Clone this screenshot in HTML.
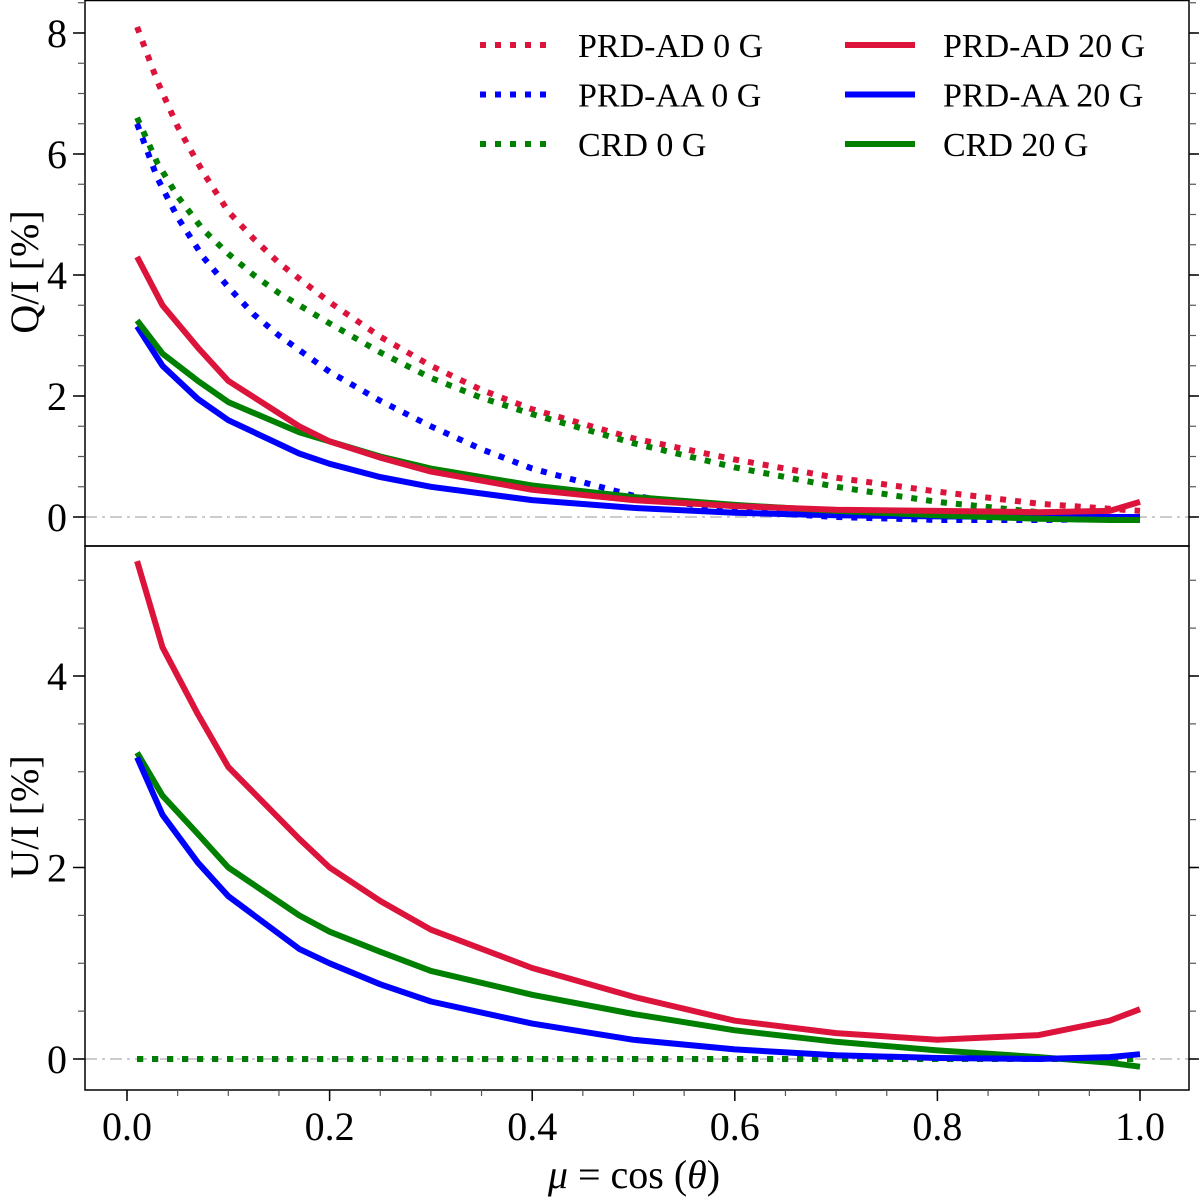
<!DOCTYPE html>
<html><head><meta charset="utf-8"><style>
html,body{margin:0;padding:0;background:#fff;}
svg{display:block;font-family:"Liberation Serif",serif;}
</style></head><body>
<svg id="c" width="1200" height="1199" viewBox="0 0 1200 1199"></svg>
<script>
const mu = [0.01,0.035,0.07,0.1,0.17,0.2,0.25,0.3,0.4,0.5,0.6,0.7,0.8,0.9,0.97,1.0];
const muD = [0.01,0.03,0.05,0.075,0.1,0.125,0.15,0.2,0.25,0.3,0.35,0.4,0.5,0.6,0.7,0.8,0.9,1.0];
const qAD0 = [8.1,7.2,6.45,5.7,5.05,4.6,4.2,3.55,2.98,2.5,2.1,1.78,1.3,0.95,0.65,0.42,0.22,0.1];
const qAA0 = [6.5,5.6,4.95,4.3,3.8,3.35,3.0,2.4,1.92,1.5,1.12,0.8,0.35,0.1,0.0,-0.05,-0.05,-0.03];
const qCRD0 = [6.6,5.85,5.3,4.75,4.35,4.0,3.7,3.2,2.72,2.3,1.97,1.7,1.22,0.82,0.5,0.25,0.08,-0.05];
const qAD20 = [4.3,3.5,2.8,2.25,1.5,1.25,0.98,0.75,0.45,0.28,0.18,0.12,0.1,0.08,0.1,0.25];
const qAA20 = [3.15,2.5,1.95,1.6,1.05,0.88,0.66,0.5,0.28,0.15,0.07,0.03,0.01,0,0,0];
const qCRD20 = [3.25,2.7,2.25,1.9,1.4,1.25,1.0,0.8,0.52,0.33,0.2,0.1,0.03,-0.03,-0.05,-0.05];
const uAD20 = [5.2,4.3,3.6,3.05,2.3,2.0,1.65,1.35,0.95,0.65,0.4,0.27,0.2,0.25,0.4,0.52];
const uAA20 = [3.15,2.55,2.05,1.7,1.15,1.0,0.78,0.6,0.37,0.2,0.1,0.04,0.01,0,0.02,0.05];
const uCRD20 = [3.2,2.75,2.35,2.0,1.5,1.33,1.12,0.92,0.67,0.47,0.3,0.18,0.09,0.02,-0.04,-0.08];
const uAD0 = [0,0,0,0,0,0,0,0,0,0,0,0,0,0,0,0,0,0];
const uAA0 = [0,0,0,0,0,0,0,0,0,0,0,0,0,0,0,0,0,0];
const uCRD0 = [0,0,0,0,0,0,0,0,0,0,0,0,0,0,0,0,0,0];
const xTicks = [0,0.2,0.4,0.6,0.8,1.0];
const xTickLabels = ["0.0","0.2","0.4","0.6","0.8","1.0"];
const qTicks = [0,2,4,6,8];
const uTicks = [0,2,4];

const NS="http://www.w3.org/2000/svg", svg=document.getElementById('c');
function el(t,a,p){const e=document.createElementNS(NS,t);for(const k in a)e.setAttribute(k,a[k]);(p||svg).appendChild(e);return e;}
const L=85,R=1189;
const X=v=>127+1013*v;
const YQ=v=>517-60.5*v;
const YU=v=>1059-95.75*v;
const RED="#dc143c",BLUE="#0000ff",GREEN="#008000";

let z=el('line',{x1:L,x2:R,y1:YQ(0),y2:YQ(0),stroke:"#bbb","stroke-width":1.5,"stroke-dasharray":"12 5 3 5"});

z=el('line',{x1:L,x2:R,y1:YU(0),y2:YU(0),stroke:"#bbb","stroke-width":1.5,"stroke-dasharray":"12 5 3 5"});


function series(xs,ys,Y,color,dotted,name){
  const d=xs.map((x,i)=>(i?'L':'M')+X(x).toFixed(1)+','+Y(ys[i]).toFixed(1)).join('');
  const a={d:d,fill:"none",stroke:color,"stroke-width":6,"stroke-linejoin":"round"};
  if(dotted){a["stroke-dasharray"]="6 9";}
  const p=el('path',a);
  
  
}
series(muD,uAD0,YU,RED,true,'u-prd-ad-0g');
series(muD,uAA0,YU,BLUE,true,'u-prd-aa-0g');
series(muD,uCRD0,YU,GREEN,true,'u-crd-0g');
series(mu,uCRD20,YU,GREEN,false,'u-crd-20g');
series(mu,uAA20,YU,BLUE,false,'u-prd-aa-20g');
series(mu,uAD20,YU,RED,false,'u-prd-ad-20g');
series(muD,qAD0,YQ,RED,true,'q-prd-ad-0g');
series(muD,qCRD0,YQ,GREEN,true,'q-crd-0g');
series(muD,qAA0,YQ,BLUE,true,'q-prd-aa-0g');
series(mu,qAA20,YQ,BLUE,false,'q-prd-aa-20g');
series(mu,qCRD20,YQ,GREEN,false,'q-crd-20g');
series(mu,qAD20,YQ,RED,false,'q-prd-ad-20g');

let f=el('rect',{x:L,y:0.5,width:R-L,height:545.5,fill:"none",stroke:"#000","stroke-width":1.5});

f=el('rect',{x:L,y:546,width:R-L,height:544,fill:"none",stroke:"#000","stroke-width":1.5});


function yTicks(ticks,Y,minStep,lo,hi,top,bot,prefix){
  for(let v=lo;v<=hi+1e-9;v+=minStep){const y=Y(v);if(y<top||y>bot)continue;
    el('line',{x1:L-7,x2:L,y1:y,y2:y,stroke:"#555","stroke-width":1.2});
    el('line',{x1:R,x2:R+7,y1:y,y2:y,stroke:"#555","stroke-width":1.2});}
  ticks.forEach(v=>{const y=Y(v);
    el('line',{x1:L-12,x2:L,y1:y,y2:y,stroke:"#000","stroke-width":1.5});
    el('line',{x1:R,x2:R+10,y1:y,y2:y,stroke:"#000","stroke-width":1.5});
    const t=el('text',{x:L-18,y:y+14,"text-anchor":"end","font-size":40});t.textContent=v;
    });
}
yTicks(qTicks,YQ,0.5,-0.5,8.5,2,544,'q-y');
yTicks(uTicks,YU,0.5,-0.5,5.5,548,1088,'u-y');

for(let v=0;v<=1.0001;v+=0.05){el('line',{x1:X(v),x2:X(v),y1:1090,y2:1096,stroke:"#555","stroke-width":1.2});}
xTicks.forEach((v,i)=>{el('line',{x1:X(v),x2:X(v),y1:1090,y2:1101,stroke:"#000","stroke-width":1.5});
  const t=el('text',{x:X(v),y:1140,"text-anchor":"middle","font-size":40});t.textContent=xTickLabels[i];
  });

let t=el('text',{x:0,y:0,"font-size":40,"text-anchor":"middle",transform:"translate(38,272) rotate(-90)"});t.textContent="Q/I [%]";

t=el('text',{x:0,y:0,"font-size":40,"text-anchor":"middle",transform:"translate(38,817) rotate(-90)"});t.textContent="U/I [%]";

t=el('text',{x:634,y:1188,"font-size":40,"text-anchor":"middle"});
t.innerHTML='<tspan font-style="italic">μ</tspan> = cos (<tspan font-style="italic">θ</tspan>)';


const legNames=["PRD-AD 0 G","PRD-AA 0 G","CRD 0 G","PRD-AD 20 G","PRD-AA 20 G","CRD 20 G"];
const legColors=[RED,BLUE,GREEN,RED,BLUE,GREEN];
legNames.forEach((n,i)=>{const col=i<3?0:1,row=i%3;const x0=col?845:480,y=45+row*49.5;
  const g=el('g',{});
  const a={x1:x0,x2:x0+70,y1:y,y2:y,stroke:legColors[i],"stroke-width":6};
  if(!col)a["stroke-dasharray"]="6 9";
  el('line',a,g);
  const tx=el('text',{x:x0+98,y:y+12,"font-size":34},g);tx.textContent=n;});
</script>
</body></html>
